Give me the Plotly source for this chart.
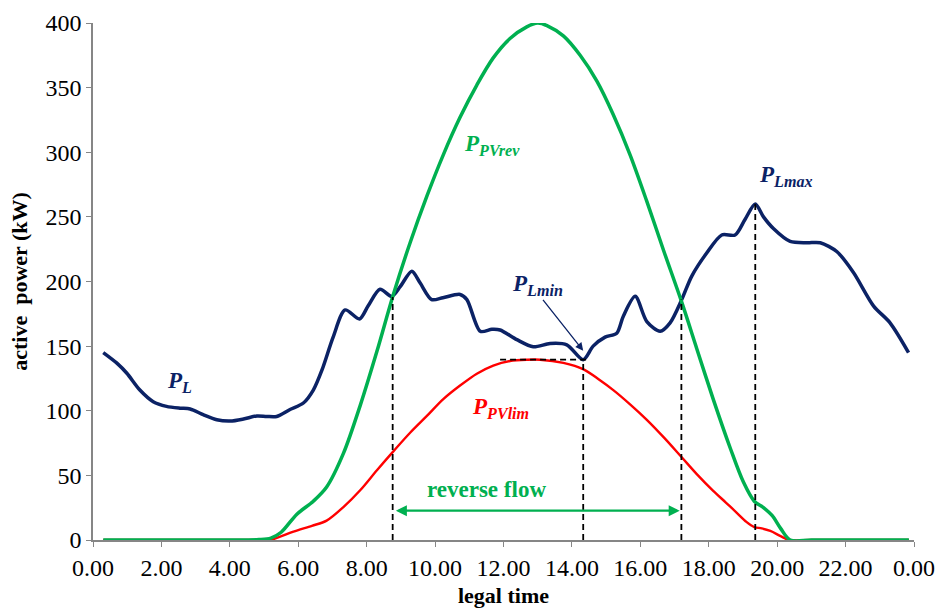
import plotly.graph_objects as go

# ---------------- data (hours, kW) ----------------
load_t = [0.30, 0.69, 0.99, 1.37, 1.76, 2.15, 2.54, 2.84, 3.22, 3.62, 4.01, 4.40, 4.79, 5.08, 5.37,
          5.76, 6.15, 6.44, 6.70, 7.02, 7.37, 7.79, 8.04, 8.39, 8.73, 8.98, 9.32, 9.56, 9.90, 10.23,
          10.73, 10.93, 11.32, 11.66, 11.90, 12.39, 12.87, 13.36, 13.85, 14.33, 14.62, 14.97, 15.31,
          15.50, 15.85, 16.19, 16.58, 16.87, 17.21, 17.50, 17.94, 18.38, 18.77, 19.06, 19.36, 19.60,
          19.89, 20.38, 20.87, 21.26, 21.75, 22.23, 22.82, 23.30, 23.84]
load_kw = [145, 137, 129, 116, 107, 103.4, 102, 101.4, 97, 93, 92, 93.6, 96, 95.6, 95.6,
           101, 106, 116, 132, 157, 178, 171, 181, 194, 188.5, 196, 208, 199, 186, 187.5,
           190, 186, 161.5, 163, 162.5, 155, 149.5, 152, 151, 139.5, 150, 157, 160,
           173, 188.5, 169, 161.5, 168, 186, 204, 222, 236, 236, 248, 260, 250,
           241, 231, 230, 230, 223, 207, 181, 168, 145]

pvrev_t = [0.30, 2.50, 4.50, 4.85, 5.20, 5.50, 5.96, 6.44, 6.83, 7.32, 7.81, 8.30, 8.78, 9.27, 9.76,
           10.24, 10.73, 11.22, 11.70, 12.19, 12.68, 13.00, 13.27, 13.75, 14.24, 14.73, 15.21,
           15.70, 16.19, 16.68, 17.21, 17.65, 18.13, 18.63, 19.01, 19.33, 19.60, 19.85, 20.10, 20.38,
           21.00, 22.50, 23.85]
pvrev_kw = [0, 0, 0, 0.3, 1.5, 6, 20, 30, 41, 67, 104, 146, 190, 230, 266,
            298, 327, 352, 373, 388, 397, 400, 398, 390, 375, 355, 329,
            298, 262, 224, 184, 148, 109, 71, 45, 30, 25, 19, 9, 0,
            0, 0, 0]

pvlim_t = [0.30, 2.50, 4.50, 4.90, 5.30, 5.86, 6.40, 6.83, 7.32, 7.81, 8.30, 8.78, 9.27, 9.76, 10.24,
           10.73, 11.22, 11.70, 12.19, 12.70, 13.07, 13.75, 14.34, 14.80, 15.21, 15.70, 16.19, 16.70,
           17.21, 17.65, 18.13, 18.50, 18.82, 19.10, 19.33, 19.55, 19.80, 20.10, 20.35, 21.00, 22.50,
           23.85]
pvlim_kw = [0, 0, 0, 0, 1, 6.5, 11, 15, 25.5, 38.5, 54, 68.6, 83, 96, 109,
            119.5, 128.7, 135, 138.5, 139.5, 139.5, 137, 132, 124, 116, 105, 93, 79,
            64, 51, 38, 29, 21, 14, 10, 9, 7, 3, 0, 0, 0,
            0]

tick_vals = [0, 2, 4, 6, 8, 10, 12, 14, 16, 18, 20, 22, 24]
tick_text = ["0.00", "2.00", "4.00", "6.00", "8.00", "10.00", "12.00", "14.00",
             "16.00", "18.00", "20.00", "22.00", "0.00"]

# reference markers: (time, level) of crossings, P_Lmin and P_Lmax
cross_t = [8.76, 17.20]
cross_kw = [188, 186]
lmin_t, lmin_kw = 14.33, 139.5
lmax_t, lmax_kw = 19.36, 260
flow_level = 22.7

NAVY = "#0B2265"
GREEN = "#00B050"
RED = "#FF0000"
FONT = "Liberation Serif, Times New Roman, serif"

fig = go.Figure()
fig.add_trace(go.Scatter(x=pvlim_t, y=pvlim_kw, mode="lines", name="P_PVlim",
                         line=dict(color=RED, width=2.4, shape="spline", smoothing=0.9)))
fig.add_trace(go.Scatter(x=load_t, y=load_kw, mode="lines", name="P_L",
                         line=dict(color=NAVY, width=3.5, shape="spline", smoothing=0.8)))
fig.add_trace(go.Scatter(x=pvrev_t, y=pvrev_kw, mode="lines", name="P_PVrev",
                         line=dict(color=GREEN, width=3.5, shape="spline", smoothing=0.9)))

dash = dict(color="black", width=1.8, dash="6px,4px")
shapes = []
for t, v in zip(cross_t, cross_kw):
    shapes.append(dict(type="line", xref="x", yref="y", x0=t, x1=t, y0=0, y1=v, line=dash))
shapes.append(dict(type="line", xref="x", yref="y", x0=lmin_t, x1=lmin_t, y0=0, y1=lmin_kw, line=dash))
shapes.append(dict(type="line", xref="x", yref="y", x0=lmax_t, x1=lmax_t, y0=0, y1=lmax_kw, line=dash))
shapes.append(dict(type="line", xref="x", yref="y", x0=11.9, x1=14.5, y0=lmin_kw, y1=lmin_kw, line=dash))

ann = []
def label(x, y, html, color, size=23):
    ann.append(dict(x=x, y=y, xref="x", yref="y", text=html, showarrow=False,
                    font=dict(family=FONT, size=size, color=color)))

label(2.54, 122, "<b><i>P<sub>L</sub></i></b>", NAVY)
label(11.67, 306, "<b><i>P<sub>PVrev</sub></i></b>", GREEN)
label(13.0, 197, "<b><i>P<sub>Lmin</sub></i></b>", NAVY)
label(20.26, 282, "<b><i>P<sub>Lmax</sub></i></b>", NAVY)
label(11.9, 102, "<b><i>P<sub>PVlim</sub></i></b>", RED)
label(11.49, 39, "<b>reverse flow</b>", GREEN, size=23)

# arrow to P_Lmin
ann.append(dict(x=lmin_t, y=lmin_kw + 7, ax=13.12, ay=187, xref="x", yref="y",
                axref="x", ayref="y", text="", showarrow=True, arrowhead=2,
                arrowsize=1.2, arrowwidth=1.3, arrowcolor=NAVY))
# reverse flow double arrow
ann.append(dict(x=cross_t[1] - 0.05, y=flow_level, ax=cross_t[0] + 0.05, ay=flow_level,
                xref="x", yref="y", axref="x", ayref="y", text="", showarrow=True,
                arrowhead=2, startarrowhead=2, arrowside="end+start", arrowsize=1,
                arrowwidth=2.2, arrowcolor=GREEN))

fig.update_layout(
    width=939, height=611,
    margin=dict(l=93, r=25, t=23, b=71),
    paper_bgcolor="white", plot_bgcolor="white",
    showlegend=False,
    shapes=shapes, annotations=ann,
    font=dict(family=FONT, size=24, color="black"),
)
fig.update_xaxes(range=[0, 24], tickvals=tick_vals, ticktext=tick_text, automargin=False,
                 showline=True, linecolor="#868686", linewidth=1.5,
                 ticks="outside", ticklen=5, tickcolor="#868686", showgrid=False, zeroline=False,
                 tickfont=dict(family=FONT, size=24, color="black"),
                 title=dict(text="<b>legal time</b>", font=dict(family=FONT, size=22), standoff=8))
fig.update_yaxes(range=[0, 400], dtick=50, automargin=False,
                 showline=True, linecolor="#868686", linewidth=1.5,
                 ticks="outside", ticklen=5, tickcolor="#868686", showgrid=False, zeroline=False,
                 tickfont=dict(family=FONT, size=24, color="black"),
                 title=dict(text="<b>active  power (kW)</b>", font=dict(family=FONT, size=22), standoff=12))

fig.write_html("out.html")
